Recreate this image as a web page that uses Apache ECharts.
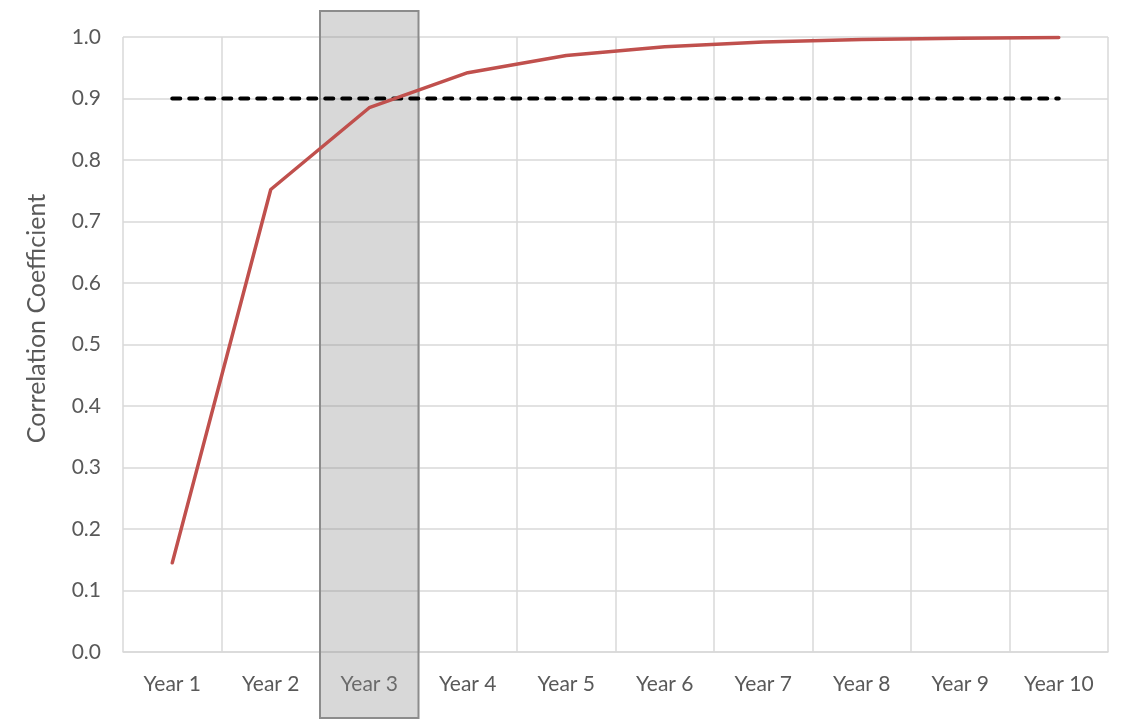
<!DOCTYPE html>
<html>
<head>
<meta charset="utf-8">
<script src="https://cdn.jsdelivr.net/npm/echarts@6/dist/echarts.min.js"></script>
<style>
  html, body { margin: 0; padding: 0; background: #fff; }
  #chart { width: 1125px; height: 719px; }
</style>
</head>
<body>
<div id="chart"></div>
<script>
// data
var years = ['Year 1', 'Year 2', 'Year 3', 'Year 4', 'Year 5', 'Year 6', 'Year 7', 'Year 8', 'Year 9', 'Year 10'];
var correlation = [0.145, 0.752, 0.885, 0.942, 0.970, 0.984, 0.992, 0.996, 0.998, 0.999];
var threshold = [0.9, 0.9, 0.9, 0.9, 0.9, 0.9, 0.9, 0.9, 0.9, 0.9];
var highlightYear = ['Year 3'];

var font = 'Lato, "Open Sans", sans-serif';
var chart = echarts.init(document.getElementById('chart'));

var option = {
  animation: false,
  grid: { left: 123, right: 17, top: 37, bottom: 67 },
  xAxis: {
    type: 'category',
    data: years,
    boundaryGap: true,
    axisLine: { lineStyle: { color: '#d9d9d9', width: 1.5 } },
    axisTick: { show: false },
    axisLabel: { color: '#595959', fontSize: 21, fontFamily: font, margin: 22 },
    splitLine: { show: true, interval: 0, lineStyle: { color: '#d9d9d9', width: 1.5 } }
  },
  yAxis: {
    type: 'value',
    min: 0,
    max: 1,
    interval: 0.1,
    name: 'Correlation Coefficient',
    nameLocation: 'middle',
    nameGap: 74,
    // title sits a little above the middle of the axis
    nameTextStyle: { color: '#595959', fontSize: 25, fontFamily: font, padding: [0, 0, 0, 52] },
    axisLine: { show: false },
    axisTick: { show: false },
    axisLabel: {
      color: '#595959', fontSize: 21, fontFamily: font, margin: 22,
      formatter: function (v) { return v.toFixed(1); }
    },
    splitLine: { lineStyle: { color: '#d9d9d9', width: 1.5 } }
  },
  series: [
    {
      // highlight box over Year 3, runs past the plot area
      type: 'custom',
      z: 1,
      clip: false,
      silent: true,
      data: highlightYear.map(function (y) { return [y, 0]; }),
      renderItem: function (params, api) {
        var c = api.coord([api.value(0), 0]);
        var w = api.size([1, 0])[0];
        return {
          type: 'rect',
          shape: { x: c[0] - w / 2, y: 11, width: w, height: 707 },
          style: { fill: 'rgba(140,140,140,0.34)', stroke: '#8c8c8c', lineWidth: 2 },
          z2: 0
        };
      }
    },
    {
      name: 'threshold',
      type: 'line',
      z: 3,
      data: threshold,
      symbol: 'none',
      lineStyle: { color: '#000', width: 4, type: [8, 9], cap: 'round' }
    },
    {
      name: 'correlation',
      type: 'line',
      z: 4,
      data: correlation,
      symbol: 'none',
      lineStyle: { color: '#c0504d', width: 3.5, cap: 'round' }
    }
  ]
};

chart.setOption(option);
</script>
</body>
</html>
